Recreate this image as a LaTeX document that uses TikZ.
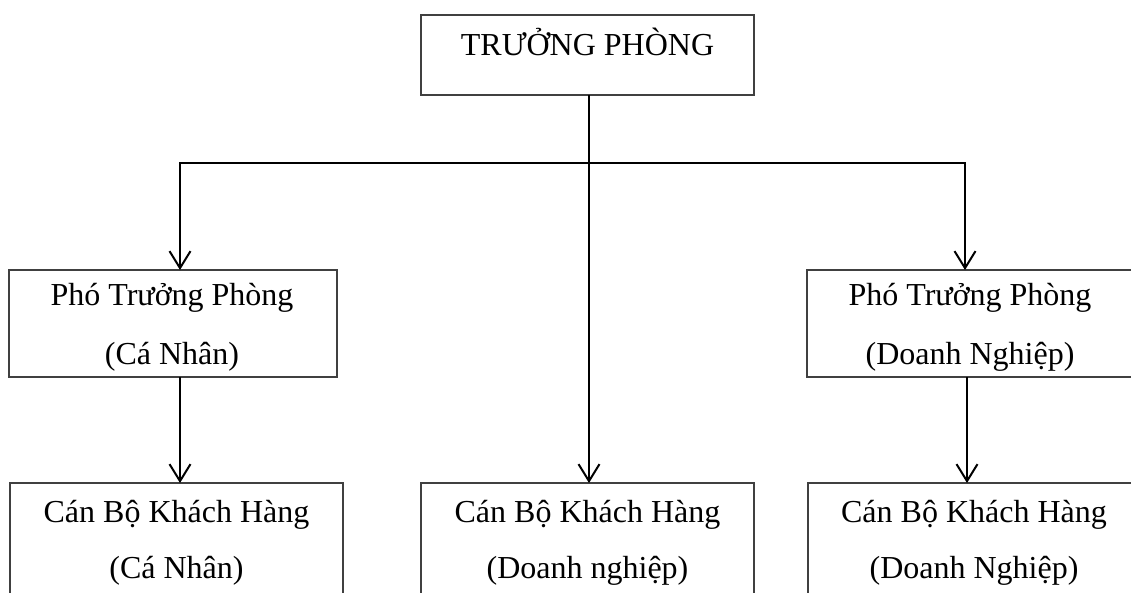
\documentclass[tikz,border=0pt]{standalone}
\usepackage{fontspec}
\setmainfont{Liberation Serif}
\usetikzlibrary{arrows.meta}
\begin{document}
\begin{tikzpicture}[x=1pt,y=-1pt,
  box/.style={draw=black!75,line width=1.2pt,inner sep=0pt,outer sep=0pt,rectangle},
  lbl/.style={anchor=base,inner sep=0pt,font=\fontsize{32}{36}\selectfont},
  conn/.style={line width=2pt,black},
  arr/.style={conn,-{Straight Barb[length=17pt,width=21pt,line width=2pt]}}]
\useasboundingbox (0,0) rectangle (1131,592);
\fill[white] (0,0) rectangle (1131,592);
\begin{scope}
\clip (0,0) rectangle (1131,592);
% boxes
\node[box,minimum width=333pt,minimum height=80pt] (tp) at (587.5,55) {};
\node[box,minimum width=328pt,minimum height=107pt] (pl) at (173,323.5) {};
\node[box,minimum width=326pt,minimum height=107pt] (pr) at (970,323.5) {};
\node[box,minimum width=333pt,minimum height=140pt] (bl) at (176.5,553) {};
\node[box,minimum width=333pt,minimum height=140pt] (bm) at (587.5,553) {};
\node[box,minimum width=333pt,minimum height=140pt] (br) at (974.5,553) {};
% labels
\node[lbl] (ttp) at (587.5,55) {TRƯỞNG PHÒNG};
\node[lbl] (tpl1) at (172,305) {Phó Trưởng Phòng};
\node[lbl] (tpl2) at (172,364) {(Cá Nhân)};
\node[lbl] (tpr1) at (970,305) {Phó Trưởng Phòng};
\node[lbl] (tpr2) at (970,364) {(Doanh Nghiệp)};
\node[lbl] (tbl1) at (176.5,522) {Cán Bộ Khách Hàng};
\node[lbl] (tbl2) at (176.5,578) {(Cá Nhân)};
\node[lbl] (tbm1) at (587.5,522) {Cán Bộ Khách Hàng};
\node[lbl] (tbm2) at (587.5,578) {(Doanh nghiệp)};
\node[lbl] (tbr1) at (974,522) {Cán Bộ Khách Hàng};
\node[lbl] (tbr2) at (974,578) {(Doanh Nghiệp)};
% connectors
\coordinate (jl) at (180,163);
\coordinate (jr) at (965,163);
\draw[arr] (tp.south -| 589,0) -- (bm.north -| 589,0);
\draw[arr] (jr) -- (jl) -- (jl |- pl.north);
\draw[arr] (jl) -- (jr) -- (jr |- pr.north);
\draw[arr] (pl.south -| 180,0) -- (bl.north -| 180,0);
\draw[arr] (pr.south -| 967,0) -- (br.north -| 967,0);
\end{scope}
\end{tikzpicture}
\end{document}
